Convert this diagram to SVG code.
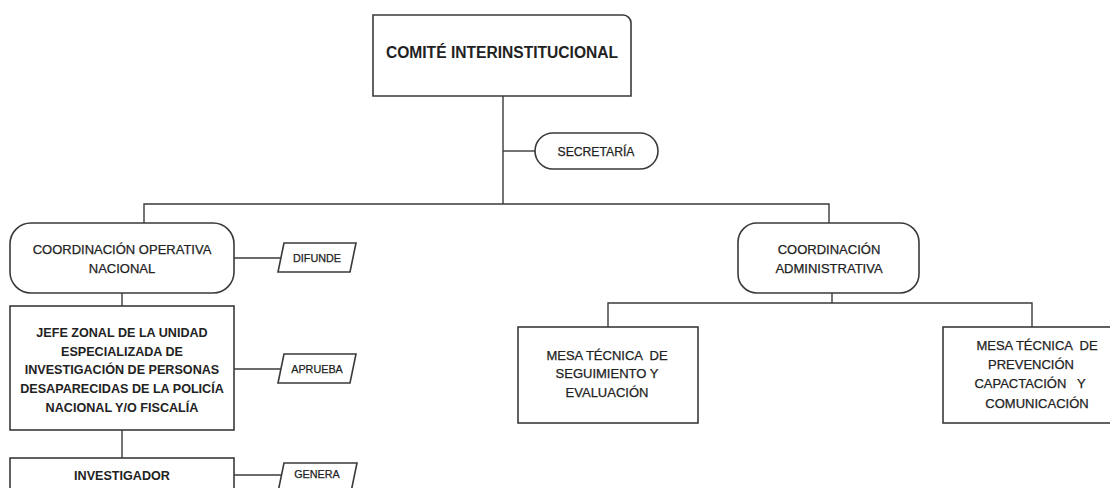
<svg xmlns="http://www.w3.org/2000/svg" width="1110" height="488" viewBox="0 0 1110 488">
<style>
.bg{fill:#ffffff}
.box{fill:#ffffff;stroke:#3a3a3a;stroke-width:1.6}
.con{fill:none;stroke:#3a3a3a;stroke-width:1.4}
.t{font-family:"Liberation Sans",Arial,sans-serif;font-size:13px;fill:#222222;stroke:#222222;stroke-width:0.25;text-anchor:middle;white-space:pre}
.b{font-weight:bold;stroke-width:0;font-size:12.6px}
.s{font-size:10.8px}
</style>
<rect class="bg" x="0" y="0" width="1110" height="488"/>
<g id="connectors">
<path class="con" d="M503,96 V204"/>
<path class="con" d="M503,151 H535"/>
<path class="con" d="M144,223 V204 H829 V223"/>
<path class="con" d="M122,293 V306"/>
<path class="con" d="M122,430 V458"/>
<path class="con" d="M234,258 H281"/>
<path class="con" d="M234,369 H281"/>
<path class="con" d="M234,475 H282"/>
<path class="con" d="M832,293 V303"/>
<path class="con" d="M608,327 V303 H1032 V327"/>
</g>
<g id="comite">
<path class="box" d="M373,15 H623 A8,8 0 0 1 631,23 V96 H373 Z"/>
<text class="t b" x="502" y="57.5" style="font-size:15.6px">COMITÉ INTERINSTITUCIONAL</text>
</g>
<g id="secretaria">
<rect class="box" x="535" y="133" width="123" height="36" rx="18" ry="18"/>
<text class="t" x="596" y="155.5" style="font-size:12.2px">SECRETARÍA</text>
</g>
<g id="coord-operativa">
<rect class="box" x="10" y="223" width="224" height="70" rx="21" ry="21"/>
<text class="t" x="122" y="253.5">COORDINACIÓN OPERATIVA</text>
<text class="t" x="122" y="272.5">NACIONAL</text>
</g>
<g id="difunde">
<polygon class="box" points="284,243 356,243 350,272 278,272"/>
<text class="t s" x="317" y="262">DIFUNDE</text>
</g>
<g id="jefe-zonal">
<rect class="box" x="10" y="306" width="224" height="124"/>
<text class="t b" x="122" y="336.5">JEFE ZONAL DE LA UNIDAD</text>
<text class="t b" x="122" y="355.5">ESPECIALIZADA DE</text>
<text class="t b" x="122" y="373.5">INVESTIGACIÓN DE PERSONAS</text>
<text class="t b" x="122" y="392.5">DESAPARECIDAS DE LA POLICÍA</text>
<text class="t b" x="122" y="411.5">NACIONAL Y/O FISCALÍA</text>
</g>
<g id="aprueba">
<polygon class="box" points="284,354 356,354 350,383 278,383"/>
<text class="t s" x="317" y="373">APRUEBA</text>
</g>
<g id="investigador">
<rect class="box" x="10" y="458" width="224" height="44"/>
<text class="t b" x="122" y="479.5">INVESTIGADOR</text>
</g>
<g id="genera">
<polygon class="box" points="284,463 357,463 351,492 278,492"/>
<text class="t s" x="317" y="478">GENERA</text>
</g>
<g id="coord-administrativa">
<rect class="box" x="738" y="223" width="181" height="70" rx="19" ry="19"/>
<text class="t" x="829" y="253.5">COORDINACIÓN</text>
<text class="t" x="829" y="272.5">ADMINISTRATIVA</text>
</g>
<g id="mesa-seguimiento">
<rect class="box" x="518" y="327" width="180" height="96"/>
<text class="t" x="607" y="359.5">MESA TÉCNICA  DE</text>
<text class="t" x="607" y="377.5">SEGUIMIENTO Y</text>
<text class="t" x="607" y="396.5">EVALUACIÓN</text>
</g>
<g id="mesa-prevencion">
<rect class="box" x="943" y="327" width="180" height="96"/>
<text class="t" x="1037" y="349.5">MESA TÉCNICA  DE</text>
<text class="t" x="1031" y="368.5">PREVENCIÓN</text>
<text class="t" x="1030" y="387.5">CAPACTACIÓN   Y</text>
<text class="t" x="1037" y="407.5">COMUNICACIÓN</text>
</g>
</svg>
